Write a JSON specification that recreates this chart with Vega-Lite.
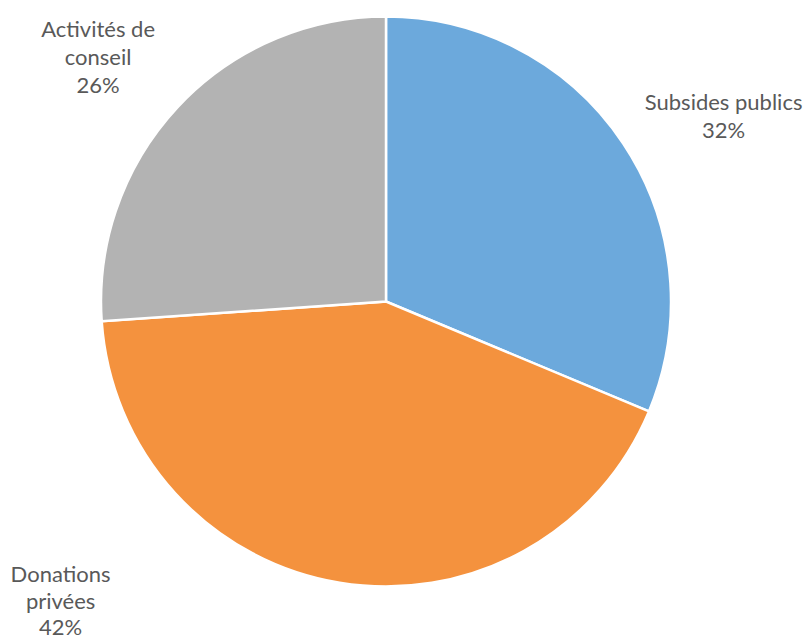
{
  "$schema": "https://vega.github.io/schema/vega-lite/v6.json",
  "autosize": "none",
  "width": 772,
  "height": 603,
  "padding": {"left": 0, "top": 0, "right": 36, "bottom": 36},
  "background": "white",
  "config": {"view": {"stroke": null}},
  "data": {
    "values": [
      {"categorie": "Subsides publics", "etiquette": "Subsides publics\n32%", "part": 31.3, "ordre": 1},
      {"categorie": "Donations privées", "etiquette": "Donations\nprivées\n42%", "part": 42.6, "ordre": 2},
      {"categorie": "Activités de conseil", "etiquette": "Activités de\nconseil\n26%", "part": 26.1, "ordre": 3}
    ]
  },
  "encoding": {
    "theta": {"field": "part", "type": "quantitative", "stack": true},
    "order": {"field": "ordre", "type": "quantitative"}
  },
  "layer": [
    {
      "mark": {"type": "arc", "radius": 285, "stroke": "white", "strokeWidth": 2.5},
      "encoding": {
        "color": {
          "field": "categorie",
          "type": "nominal",
          "scale": {
            "domain": ["Subsides publics", "Donations privées", "Activités de conseil"],
            "range": ["#6CA9DC", "#F4923E", "#B3B3B3"]
          },
          "legend": null
        }
      }
    },
    {
      "mark": {"type": "text", "radius": 390, "dx": 13, "dy": 18, "font": "Lato", "fontSize": 22, "fill": "#595959", "lineBreak": "\n", "lineHeight": 28, "align": "center", "baseline": "middle"},
      "encoding": {"text": {"condition": {"test": "datum.ordre == 1", "field": "etiquette"}, "value": ""}}
    },
    {
      "mark": {"type": "text", "radius": 310, "dx": -275, "dy": -32, "font": "Lato", "fontSize": 22, "fill": "#595959", "lineBreak": "\n", "lineHeight": 26.5, "align": "center", "baseline": "middle"},
      "encoding": {"text": {"condition": {"test": "datum.ordre == 2", "field": "etiquette"}, "value": ""}}
    },
    {
      "mark": {"type": "text", "radius": 350, "dx": -32, "dy": -33, "font": "Lato", "fontSize": 22, "fill": "#595959", "lineBreak": "\n", "lineHeight": 28, "align": "center", "baseline": "middle"},
      "encoding": {"text": {"condition": {"test": "datum.ordre == 3", "field": "etiquette"}, "value": ""}}
    }
  ]
}
